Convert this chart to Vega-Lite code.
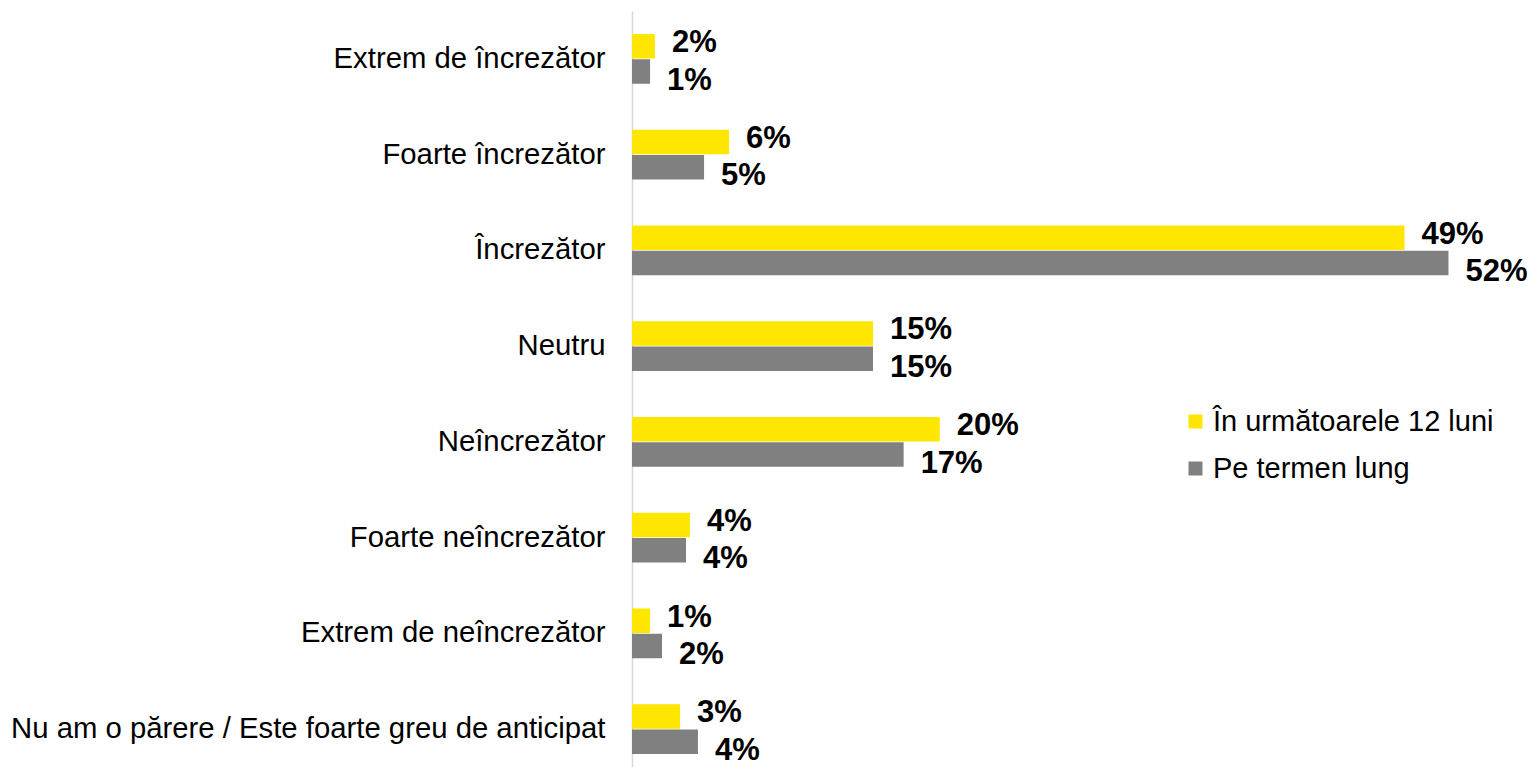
{
  "$schema": "https://vega.github.io/schema/vega-lite/v6.json",
  "autosize": "none",
  "padding": {"left": 632, "top": 11, "right": 0, "bottom": 0},
  "width": 900,
  "height": 766,
  "background": "white",
  "config": {"view": {"stroke": null}, "font": "Liberation Sans"},
  "data": {"values": [
    {"category": "Extrem de încrezător", "series": "În următoarele 12 luni", "value": 1.46, "label": "2%"},
    {"category": "Extrem de încrezător", "series": "Pe termen lung", "value": 1.15, "label": "1%"},
    {"category": "Foarte încrezător", "series": "În următoarele 12 luni", "value": 6.18, "label": "6%"},
    {"category": "Foarte încrezător", "series": "Pe termen lung", "value": 4.59, "label": "5%"},
    {"category": "Încrezător", "series": "În următoarele 12 luni", "value": 49.2, "label": "49%"},
    {"category": "Încrezător", "series": "Pe termen lung", "value": 52.0, "label": "52%"},
    {"category": "Neutru", "series": "În următoarele 12 luni", "value": 15.35, "label": "15%"},
    {"category": "Neutru", "series": "Pe termen lung", "value": 15.35, "label": "15%"},
    {"category": "Neîncrezător", "series": "În următoarele 12 luni", "value": 19.6, "label": "20%"},
    {"category": "Neîncrezător", "series": "Pe termen lung", "value": 17.3, "label": "17%"},
    {"category": "Foarte neîncrezător", "series": "În următoarele 12 luni", "value": 3.69, "label": "4%"},
    {"category": "Foarte neîncrezător", "series": "Pe termen lung", "value": 3.44, "label": "4%"},
    {"category": "Extrem de neîncrezător", "series": "În următoarele 12 luni", "value": 1.15, "label": "1%"},
    {"category": "Extrem de neîncrezător", "series": "Pe termen lung", "value": 1.91, "label": "2%"},
    {"category": "Nu am o părere / Este foarte greu de anticipat", "series": "În următoarele 12 luni", "value": 3.06, "label": "3%"},
    {"category": "Nu am o părere / Este foarte greu de anticipat", "series": "Pe termen lung", "value": 4.2, "label": "4%"}
  ]},
  "encoding": {
    "y": {
      "field": "category", "type": "nominal", "sort": null, "title": null,
      "scale": {"paddingInner": 0.48, "paddingOuter": 0.24},
      "axis": {
        "domain": true, "domainColor": "#d9d9d9", "domainWidth": 1.5,
        "ticks": false, "labelPadding": 27, "labelFontSize": 29.3,
        "labelColor": "#000000", "labelFont": "Liberation Sans", "labelLimit": 700
      }
    },
    "x": {
      "field": "value", "type": "quantitative",
      "scale": {"domain": [0, 57.32], "nice": false},
      "axis": null
    },
    "yOffset": {
      "field": "series", "type": "nominal", "sort": null,
      "scale": {"domain": ["În următoarele 12 luni", "Pe termen lung"], "paddingInner": 0.03}
    }
  },
  "layer": [
    {
      "mark": {"type": "bar"},
      "encoding": {
        "color": {
          "field": "series", "type": "nominal",
          "scale": {"domain": ["În următoarele 12 luni", "Pe termen lung"], "range": ["#FFE600", "#808080"]},
          "legend": {
            "title": null, "orient": "none", "legendX": 549, "legendY": 396,
            "symbolType": "square", "symbolSize": 196, "symbolStrokeWidth": 0,
            "labelFontSize": 29, "labelFont": "Liberation Sans", "labelColor": "#000000",
            "labelOffset": 3, "rowPadding": 17, "labelLimit": 400
          }
        }
      }
    },
    {
      "transform": [{"filter": "datum.series === 'În următoarele 12 luni'"}],
      "mark": {"type": "text", "align": "left", "baseline": "middle", "dx": 17, "dy": -3, "fontSize": 31, "fontWeight": "bold", "font": "Liberation Sans", "color": "#000000"},
      "encoding": {"text": {"field": "label"}}
    },
    {
      "transform": [{"filter": "datum.series === 'Pe termen lung'"}],
      "mark": {"type": "text", "align": "left", "baseline": "middle", "dx": 17, "dy": 9, "fontSize": 31, "fontWeight": "bold", "font": "Liberation Sans", "color": "#000000"},
      "encoding": {"text": {"field": "label"}}
    }
  ]
}
